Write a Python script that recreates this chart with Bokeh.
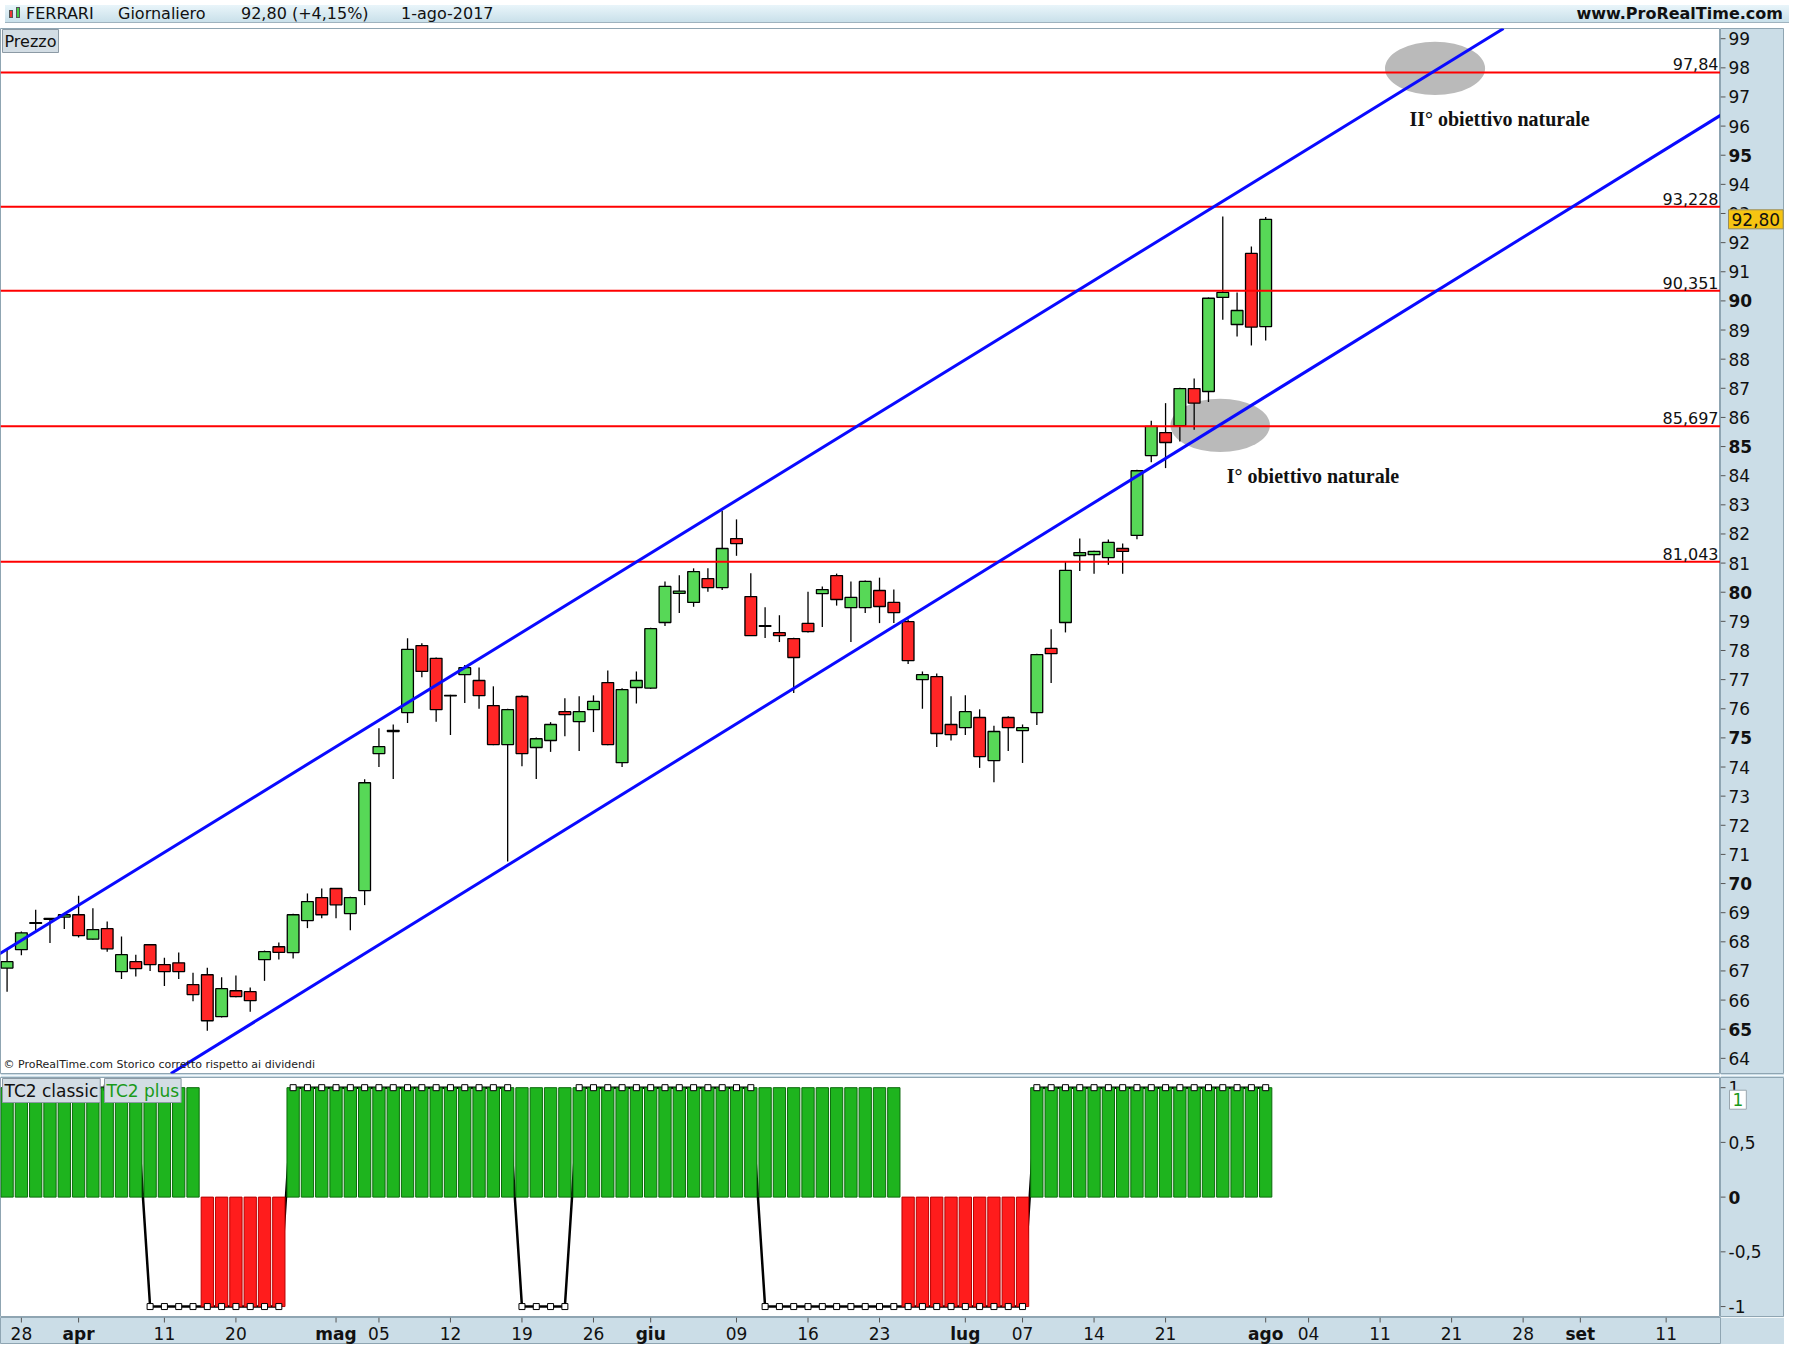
from bokeh.plotting import figure
from bokeh.layouts import column, row
from bokeh.models import Range1d, Label, Span, Slope, ColumnDataSource, Div
from bokeh.embed import file_html
from bokeh.resources import INLINE
from bokeh.core.properties import value

# ---------------- data ----------------
# trading-day index 0 = 27 mar 2017 ... 88 = 1 ago 2017
opens = [67.10, 67.73, 68.63, 68.77, 68.85, 68.93, 68.09, 68.45, 66.98, 67.32,
         67.90, 67.22, 67.28, 66.53, 66.87, 65.43, 66.32, 66.29, 67.39, 67.83,
         67.63, 68.73, 69.52, 69.83, 68.97, 69.76, 74.46, 75.22, 75.87, 78.17,
         77.73, 76.44, 77.17, 76.97, 76.11, 74.77, 76.42, 74.67, 74.91, 75.90,
         75.56, 75.97, 76.90, 74.15, 76.73, 76.71, 78.96, 79.96, 79.65, 80.47,
         80.16, 81.84, 79.85, 78.83, 78.61, 78.41, 78.93, 79.95, 80.57, 79.47,
         79.47, 80.06, 79.65, 78.99, 77.00, 77.10, 75.46, 75.35, 75.70, 74.22,
         75.70, 75.25, 75.87, 78.07, 78.96, 81.26, 81.29, 81.19, 81.50, 81.95,
         84.69, 85.48, 85.72, 86.99, 86.89, 90.12, 89.19, 91.63, 89.12]
highs = [67.77, 68.35, 69.10, 68.82, 68.95, 69.58, 69.15, 68.70, 68.18, 67.56,
         67.92, 67.45, 67.63, 66.94, 67.11, 66.78, 66.84, 66.43, 67.70, 67.98,
         68.96, 69.66, 69.83, 69.85, 69.55, 73.58, 75.33, 75.46, 78.42, 78.25,
         77.76, 76.48, 77.50, 77.42, 76.77, 76.00, 76.46, 75.01, 75.54, 76.36,
         76.43, 76.46, 77.31, 76.70, 77.28, 78.78, 80.37, 80.58, 80.82, 80.82,
         82.80, 82.50, 80.65, 79.48, 79.21, 78.44, 80.02, 80.20, 80.64, 80.37,
         80.40, 80.50, 80.09, 79.06, 77.28, 77.21, 76.43, 76.46, 75.98, 75.42,
         75.74, 75.46, 77.89, 78.73, 81.05, 81.84, 81.42, 81.81, 81.67, 84.20,
         85.89, 86.49, 87.02, 87.34, 90.12, 92.90, 90.29, 91.87, 92.88]
lows = [66.29, 67.54, 68.40, 67.96, 68.44, 68.15, 68.07, 67.66, 66.72, 66.81,
        67.00, 66.48, 66.72, 65.96, 64.95, 65.40, 66.10, 65.60, 66.66, 67.39,
        67.43, 68.47, 68.81, 68.81, 68.40, 69.26, 74.00, 73.59, 75.51, 77.08,
        75.55, 75.10, 76.20, 76.00, 74.75, 70.76, 74.03, 73.59, 74.52, 75.06,
        74.55, 75.20, 74.75, 74.00, 76.18, 76.68, 78.84, 79.29, 79.50, 80.02,
        80.08, 81.25, 78.50, 78.43, 78.29, 76.54, 78.62, 78.81, 79.54, 78.29,
        79.29, 78.94, 78.94, 77.54, 76.00, 74.69, 74.91, 75.10, 73.97, 73.48,
        74.55, 74.14, 75.44, 76.88, 78.62, 80.73, 80.63, 80.94, 80.63, 81.82,
        84.46, 84.26, 85.17, 85.58, 86.53, 89.35, 88.78, 88.47, 88.64]
closes = [67.32, 68.31, 68.66, 68.80, 68.93, 68.21, 68.42, 67.76, 67.56, 67.08,
          67.22, 66.98, 66.98, 66.19, 65.29, 66.39, 66.12, 65.98, 67.66, 67.64,
          68.93, 69.38, 68.93, 69.27, 69.52, 73.46, 74.70, 75.26, 78.04, 77.28,
          75.97, 76.46, 77.41, 76.45, 74.77, 75.97, 74.46, 74.97, 75.46, 75.80,
          75.90, 76.25, 74.77, 76.66, 76.97, 78.75, 80.20, 80.04, 80.71, 80.16,
          81.50, 81.67, 78.51, 78.85, 78.51, 77.76, 78.65, 80.09, 79.75, 79.82,
          80.37, 79.51, 79.30, 77.65, 77.17, 75.15, 75.11, 75.90, 74.36, 75.22,
          75.35, 75.35, 77.86, 77.89, 80.75, 81.36, 81.40, 81.71, 81.40, 84.17,
          85.69, 85.14, 86.99, 86.49, 90.09, 90.29, 89.67, 89.10, 92.80]

# TC2 indicator values per trading day
tc2_classic = [1, 1, 1, 1, 1, 1, 1, 1, 1, 1, 1, 1, 1, 1, -1, -1, -1, -1, -1, -1,
               1, 1, 1, 1, 1, 1, 1, 1, 1, 1, 1, 1, 1, 1, 1, 1, 1, 1, 1, 1,
               1, 1, 1, 1, 1, 1, 1, 1, 1, 1, 1, 1, 1, 1, 1, 1, 1, 1, 1, 1,
               1, 1, 1, -1, -1, -1, -1, -1, -1, -1, -1, -1, 1, 1, 1, 1, 1, 1, 1, 1,
               1, 1, 1, 1, 1, 1, 1, 1, 1]
tc2_plus = [1, 1, 1, 1, 1, 1, 1, 1, 1, 1, -1, -1, -1, -1, -1, -1, -1, -1, -1, -1,
            1, 1, 1, 1, 1, 1, 1, 1, 1, 1, 1, 1, 1, 1, 1, 1, -1, -1, -1, -1,
            1, 1, 1, 1, 1, 1, 1, 1, 1, 1, 1, 1, 1, -1, -1, -1, -1, -1, -1, -1,
            -1, -1, -1, -1, -1, -1, -1, -1, -1, -1, -1, -1, 1, 1, 1, 1, 1, 1, 1, 1,
            1, 1, 1, 1, 1, 1, 1, 1, 1]

# horizontal levels
levels = [97.84, 93.228, 90.351, 85.697, 81.043]
level_labels = ["97,84", "93,228", "90,351", "85,697", "81,043"]

# channel anchors (trading index, price)
upper_x = [44.0, 99.63]
upper_y = [81.04, 97.84]
lower_x = [44.0, 84.65]
lower_y = [73.36, 85.70]

# target zones (ellipses) and notes
zone_x = [84.82, 99.84]
zone_y = [85.73, 97.98]
zone_w = [6.95, 7.0]
zone_h = [1.83, 1.83]
notes_x = [91.3, 104.35]
notes_y = [83.98, 96.24]
notes = ["I° obiettivo naturale", "II° obiettivo naturale"]

# x tick positions (trading index) and labels
tick_idx = [1, 5, 11, 16, 23, 26, 31, 36, 41, 45, 51, 56, 61, 67, 71, 76, 81,
            88, 91, 96, 101, 106, 110, 116]
tick_lbl = ["28", "apr", "11", "20", "mag", "05", "12", "19", "26", "giu", "09",
            "16", "23", "lug", "07", "14", "21", "ago", "04", "11", "21", "28",
            "set", "11"]
month_names = ["apr", "mag", "giu", "lug", "ago", "set"]
price_ticks = list(range(64, 100))
ind_ticks = [-1, -0.5, 0, 0.5, 1]
ind_tick_lbl = ["-1", "-0,5", "0", "0,5", "1"]

# ---------------- layout constants ----------------
FW = 1720          # plot frame width
AXW = 64           # right axis strip width
PH = 1045          # price frame height
IH = 240           # indicator frame height
XH = 27            # date strip height
HH = 18            # header height
FONT = "DejaVu Sans"
PANEL_BG = "#cbdde7"
EDGE = "#8fa5b2"
TXT = "#111111"

xr = Range1d(-0.46, 119.8)
price_range = Range1d(63.48, 99.35)
ind_range = Range1d(-1.10, 1.093)


def fmt(v, nd=2):
    return ("%.*f" % (nd, v)).replace(".", ",")


# ---------------- header ----------------
chg = (closes[-1] / closes[-2] - 1) * 100
head_html = (
    '<div style="position:relative;width:%dpx;height:%dpx;font-family:\'DejaVu Sans\';'
    'font-size:16px;line-height:%dpx;color:#111;white-space:nowrap;">'
    '<span style="position:absolute;left:4px;top:5px;width:4px;height:8px;background:#e33;border:1px solid #555"></span>'
    '<span style="position:absolute;left:11px;top:2px;width:4px;height:11px;background:#4c4;border:1px solid #555"></span>'
    '<span style="position:absolute;left:21px;top:0px">FERRARI</span>'
    '<span style="position:absolute;left:113px;top:0px">Giornaliero</span>'
    '<span style="position:absolute;left:236px;top:0px">%s (+%s%%)</span>'
    '<span style="position:absolute;left:396px;top:0px">1-ago-2017</span>'
    '<span style="position:absolute;right:6px;top:0px;font-weight:bold;font-size:16px">www.ProRealTime.com</span>'
    '</div>' % (FW + AXW, HH, HH, fmt(closes[-1]), fmt(chg)))
header = Div(text=head_html, width=FW + AXW, height=HH,
             styles={"background": "linear-gradient(#e9f5fa, #c9e0ea)",
                     "border-bottom": "1px solid #9fb3bf", "box-sizing": "border-box",
                     "overflow": "hidden"})


def base_fig(**kw):
    f = figure(toolbar_location=None, output_backend="svg", x_axis_location=None,
               y_axis_location=None, min_border=0, **kw)
    f.grid.visible = False
    return f


# ---------------- price panel ----------------
p = base_fig(frame_width=FW, frame_height=PH, x_range=xr, y_range=price_range,
             min_border_bottom=2, background_fill_color="white",
             border_fill_color=PANEL_BG, outline_line_color=EDGE)

idx = list(range(len(closes)))
src = ColumnDataSource(dict(
    x=idx, o=opens, h=highs, l=lows, c=closes,
    top=[max(a, b) for a, b in zip(opens, closes)],
    bot=[min(a, b) for a, b in zip(opens, closes)],
    col=["#57d857" if c >= o else "#ff2626" for o, c in zip(opens, closes)]))

p.ellipse(x=zone_x, y=zone_y, width=zone_w, height=zone_h, fill_color="#bababa",
          line_color=None)
p.segment(x0="x", y0="h", x1="x", y1="l", source=src, line_color="black", line_width=1.3)
p.vbar(x="x", top="top", bottom="bot", width=0.82, source=src, fill_color="col",
       line_color="black", line_width=1.3)

for lv in levels:
    p.add_layout(Span(location=lv, dimension="width", line_color="#ff0000", line_width=2))
for lv, lb in zip(levels, level_labels):
    p.add_layout(Label(x=FW - 2, y=lv, x_units="screen", y_units="data", text=lb,
                       text_font=FONT, text_font_size="16px", text_color=TXT,
                       text_align="right", text_baseline="bottom", y_offset=2))

g_up = (upper_y[1] - upper_y[0]) / (upper_x[1] - upper_x[0])
g_lo = (lower_y[1] - lower_y[0]) / (lower_x[1] - lower_x[0])
p.add_layout(Slope(gradient=g_up, y_intercept=upper_y[0] - g_up * upper_x[0],
                   line_color="#0a0aff", line_width=3))
p.add_layout(Slope(gradient=g_lo, y_intercept=lower_y[0] - g_lo * lower_x[0],
                   line_color="#0a0aff", line_width=3))

p.text(x=notes_x, y=notes_y, text=notes, text_font=value("Liberation Serif"),
       text_font_size="20px", text_font_style="bold", text_align="center",
       text_baseline="middle", text_color=TXT)

p.add_layout(Label(x=2, y=PH - 1, x_units="screen", y_units="screen", text="Prezzo",
                   text_font=FONT, text_font_size="16px", text_color=TXT,
                   text_align="left", text_baseline="top", background_fill_color="#d3dde4",
                   border_line_color="#8c9aa5", padding=2))
p.add_layout(Label(x=3, y=3, x_units="screen", y_units="screen",
                   text="© ProRealTime.com Storico corretto rispetto ai dividendi",
                   text_font=FONT, text_font_size="11px", text_color="#222222",
                   text_align="left", text_baseline="bottom"))

# price axis strip
pa = base_fig(frame_width=AXW, frame_height=PH, x_range=Range1d(0, AXW),
              y_range=price_range, min_border_bottom=2, background_fill_color=PANEL_BG,
              border_fill_color=PANEL_BG, outline_line_color=EDGE)
pa.segment(x0=0, x1=5, y0=price_ticks, y1=price_ticks, line_color="#555555", line_width=1)
norm_t = [t for t in price_ticks if t % 5 != 0]
bold_t = [t for t in price_ticks if t % 5 == 0]
pa.text(x=8, y=norm_t, text=[str(t) for t in norm_t], text_font=value(FONT),
        text_font_size="17px", text_color=TXT, text_baseline="middle", text_align="left")
pa.text(x=8, y=bold_t, text=[str(t) for t in bold_t], text_font=value(FONT),
        text_font_size="17px", text_font_style="bold", text_color=TXT,
        text_baseline="middle", text_align="left")
pa.add_layout(Label(x=8, y=closes[-1], x_units="data", y_units="data",
                    text=fmt(closes[-1]), text_font=FONT, text_font_size="17px",
                    text_color=TXT, text_align="left", text_baseline="middle",
                    background_fill_color="#f6c412", border_line_color="#9a8c5a", padding=3))

# ---------------- indicator panel ----------------
q = base_fig(frame_width=FW, frame_height=IH, x_range=xr, y_range=ind_range,
             min_border_top=2, background_fill_color="white",
             border_fill_color=PANEL_BG, outline_line_color=EDGE)

isrc = ColumnDataSource(dict(
    x=idx, v=tc2_classic, pl=tc2_plus,
    fill=["#1eb41e" if v > 0 else "#ff1c1c" for v in tc2_classic],
    edge=["#0b6a0b" if v > 0 else "#b80000" for v in tc2_classic]))
q.line(x="x", y="pl", source=isrc, line_color="black", line_width=2.5)
q.vbar(x="x", top="v", bottom=0, width=0.86, source=isrc, fill_color="fill",
       line_color="edge", line_width=1)
q.scatter(x="x", y="pl", source=isrc, marker="square", size=6, fill_color="white",
          line_color="black", line_width=1)

q.add_layout(Label(x=2, y=IH - 1, x_units="screen", y_units="screen", text="TC2 classic",
                   text_font=FONT, text_font_size="17px", text_color=TXT,
                   text_align="left", text_baseline="top", background_fill_color="#d3dde4",
                   border_line_color="#8c9aa5", padding=2))
q.add_layout(Label(x=104, y=IH - 1, x_units="screen", y_units="screen", text="TC2 plus",
                   text_font=FONT, text_font_size="17px", text_color="#1a9a1a",
                   text_align="left", text_baseline="top", background_fill_color="#d3dde4",
                   border_line_color="#8c9aa5", padding=2))

# indicator axis strip
qa = base_fig(frame_width=AXW, frame_height=IH, x_range=Range1d(0, AXW),
              y_range=ind_range, min_border_top=2, background_fill_color=PANEL_BG,
              border_fill_color=PANEL_BG, outline_line_color=EDGE)
qa.segment(x0=0, x1=5, y0=ind_ticks, y1=ind_ticks, line_color="#555555", line_width=1)
qn = [(t, s) for t, s in zip(ind_ticks, ind_tick_lbl) if t != 0]
qa.text(x=8, y=[t for t, s in qn], text=[s for t, s in qn], text_font=value(FONT),
        text_font_size="17px", text_color=TXT, text_baseline="middle", text_align="left")
qa.text(x=8, y=[0], text=[ind_tick_lbl[ind_ticks.index(0)]], text_font=value(FONT),
        text_font_size="17px", text_font_style="bold", text_color=TXT,
        text_baseline="middle", text_align="left")
qa.add_layout(Label(x=9, y=0.89, x_units="data", y_units="data", text=str(tc2_classic[-1]),
                    text_font=FONT, text_font_size="17px", text_color="#1a9a1a",
                    text_align="left", text_baseline="middle", background_fill_color="white",
                    border_line_color="#9aa6ae", padding=3))

# ---------------- date axis strip ----------------
xa = base_fig(frame_width=FW, frame_height=XH, x_range=xr, y_range=Range1d(0, XH),
              min_border_right=AXW, background_fill_color=PANEL_BG,
              border_fill_color=PANEL_BG, outline_line_color=EDGE)
xa.segment(x0=tick_idx, x1=tick_idx, y0=XH, y1=XH - 5, line_color="#555555", line_width=1)
dn = [(t, s) for t, s in zip(tick_idx, tick_lbl) if s not in month_names]
dm = [(t, s) for t, s in zip(tick_idx, tick_lbl) if s in month_names]
xa.text(x=[t for t, s in dn], y=XH - 16, text=[s for t, s in dn], text_font=value(FONT),
        text_font_size="17px", text_color=TXT, text_align="center", text_baseline="middle")
xa.text(x=[t for t, s in dm], y=XH - 16, text=[s for t, s in dm], text_font=value(FONT),
        text_font_size="17px", text_font_style="bold", text_color=TXT,
        text_align="center", text_baseline="middle")

layout = column(header, row(p, pa, spacing=0), row(q, qa, spacing=0), xa, spacing=0)
open("out.html", "w").write(file_html(layout, INLINE))
